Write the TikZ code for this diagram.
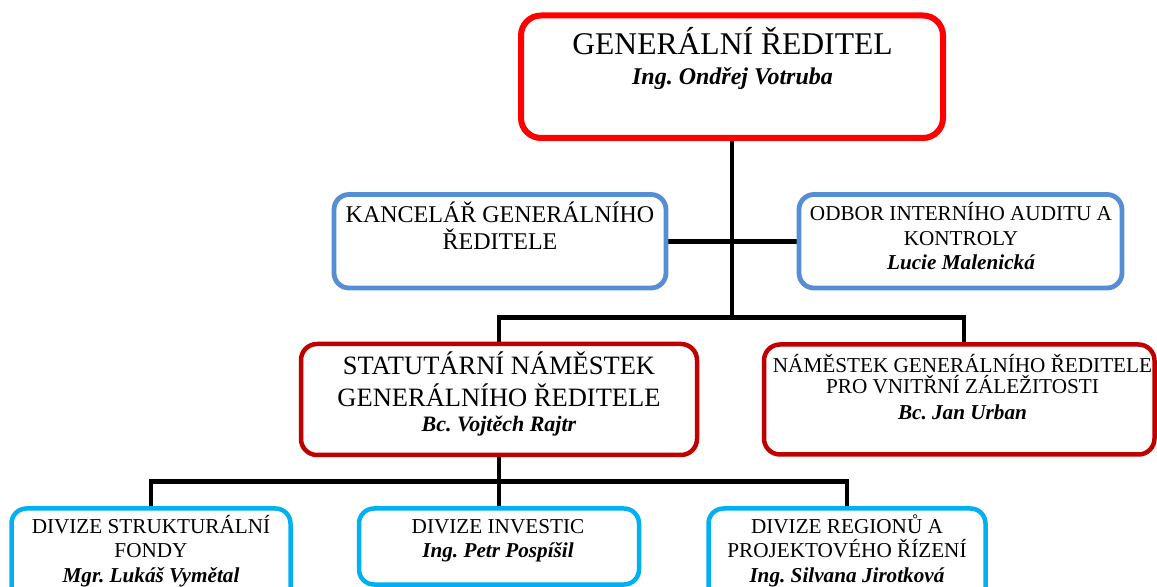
\documentclass[tikz,border=0pt]{standalone}
\usepackage{fontspec}
\setmainfont{Liberation Serif}
\usepackage{tikz}
\usetikzlibrary{calc}
\usetikzlibrary{backgrounds}
\definecolor{topred}{RGB}{255,0,0}
\definecolor{deptred}{RGB}{192,0,0}
\definecolor{officeblue}{RGB}{85,142,213}
\definecolor{divblue}{RGB}{0,176,240}
\tikzset{
 box/.style={draw, fill=white, inner sep=0, rounded corners=7.5pt, line width=2.4pt},
 conn/.style={black, line width=2.4pt},
 lbl/.style={anchor=base, align=center, inner sep=0},
}
\newcommand{\who}[1]{\textbf{\textit{#1}}}
\frenchspacing

\begin{document}
\begin{tikzpicture}[x=0.5pt,y=-0.5pt]
\useasboundingbox (0,0) rectangle (1157,587);
\clip (0,0) rectangle (1157,587);
\node[box, draw=topred, line width=3pt, rounded corners=10pt, minimum width=211pt, minimum height=61.25pt] (gr) at (732,76.75) {};
\node[box, draw=officeblue, minimum width=166pt, minimum height=46.75pt] (kanc) at (500,241.25) {};
\node[box, draw=officeblue, minimum width=161.5pt, minimum height=46.75pt] (odbor) at (960.5,241.25) {};
\node[box, draw=deptred, line width=2.25pt, rounded corners=8pt, minimum width=198pt, minimum height=55.5pt] (stat) at (499,399.5) {};
\node[box, draw=deptred, line width=2.25pt, rounded corners=8pt, minimum width=195.25pt, minimum height=55pt] (nam) at (959.25,399.5) {};
\node[box, draw=divblue, line width=2.25pt, minimum width=139.5pt, minimum height=48.25pt] (strukt) at (151,556.75) {};
\node[box, draw=divblue, line width=2.25pt, minimum width=140pt, minimum height=38pt] (invest) at (499,546.5) {};
\node[box, draw=divblue, line width=2.25pt, minimum width=138.5pt, minimum height=48.25pt] (region) at (847,556.75) {};
\coordinate (j1) at (733,317.5);
\coordinate (j2) at (499,481.5);
\coordinate (namtop) at ([xshift=2.4pt]nam.north);
\begin{scope}[on background layer]
\draw[conn] (gr.south) -- (gr.south |- j1);
\draw[conn] (kanc.east) -- (odbor.west);
\draw[conn] (stat.north) -- (stat.north |- j1) -- (namtop |- j1) -- (namtop);
\draw[conn] (stat.south) -- (invest.north);
\draw[conn] (strukt.north) -- (strukt.north |- j2) -- (region.north |- j2) -- (region.north);
\end{scope}
\node[lbl, font=\fontsize{15.8}{15}\selectfont] (grtext) at (732.5,85) {GENERÁLNÍ ŘEDITEL\\{\fontsize{12}{15}\selectfont\who{Ing. Ondřej Votruba}}};
\node[lbl, font=\fontsize{12}{13.5}\selectfont] (kanctext) at (500,250) {KANCELÁŘ GENERÁLNÍHO\\ŘEDITELE};
\node[lbl, font=\fontsize{10.6}{12.25}\selectfont] (odbortext) at (961,270) {ODBOR INTERNÍHO AUDITU A\\KONTROLY\\\who{Lucie Malenická}};
\node[lbl, font=\fontsize{13.25}{16}\selectfont] (stattext) at (499,432) {STATUTÁRNÍ NÁMĚSTEK\\GENERÁLNÍHO ŘEDITELE\\[-3.5pt]{\fontsize{11}{13}\selectfont\who{Bc. Vojtěch Rajtr}}};
\node[lbl, font=\fontsize{10.6}{10.5}\selectfont] (namtext) at (962.5,420) {NÁMĚSTEK GENERÁLNÍHO ŘEDITELE\\PRO VNITŘNÍ ZÁLEŽITOSTI\\[2.75pt]\who{Bc. Jan Urban}};
\node[lbl, font=\fontsize{10.6}{12.25}\selectfont] (strukttext) at (151,582) {DIVIZE STRUKTURÁLNÍ\\FONDY\\\who{Mgr. Lukáš Vymětal}};
\node[lbl, font=\fontsize{10.6}{12.5}\selectfont] (investtext) at (498,558) {DIVIZE INVESTIC\\\who{Ing. Petr Pospíšil}};
\node[lbl, font=\fontsize{10.6}{12.25}\selectfont] (regiontext) at (847,582) {DIVIZE REGIONŮ A\\PROJEKTOVÉHO ŘÍZENÍ\\\who{Ing. Silvana Jirotková}};
\end{tikzpicture}
\end{document}
